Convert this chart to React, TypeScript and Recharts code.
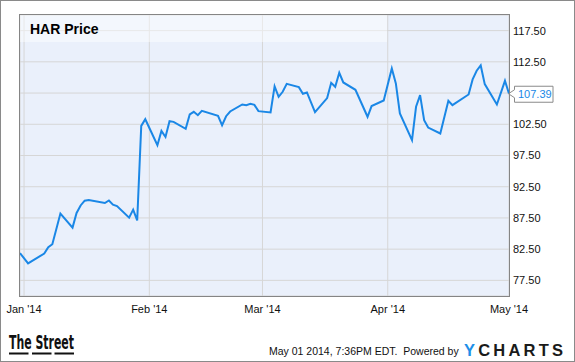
import React from 'react';
import { LineChart, Line, XAxis, YAxis, CartesianGrid, ReferenceDot } from 'recharts';

// Days since Dec 31 2013
const days = [
  0, 2, 6, 7, 8, 10, 13, 14, 15, 16, 17, 21, 22, 23, 24, 27, 28, 29, 30, 31,
  34, 35, 36, 37, 38, 41, 42, 43, 44, 45, 49, 50, 51, 52, 55, 56, 57, 58, 59,
  62, 63, 64, 65, 66, 69, 70, 71, 73, 76, 77, 78, 79, 80, 83, 86, 87, 90, 92,
  93, 94, 97, 98, 99, 100, 101, 104, 106, 107, 111, 112, 113, 114, 115, 118,
  120, 121,
];
const prices = [
  81.87, 80.21, 81.8, 82.8, 83.3, 88.2, 85.96, 88.3, 89.5, 90.27, 90.37, 89.89,
  90.3, 89.63, 89.41, 87.55, 88.83, 87.1, 102.24, 103.31,
  99.14, 101.43, 100.47, 102.99, 102.89, 101.77, 104.07, 104.49, 103.96, 104.65,
  103.84, 102.35, 103.79, 104.55, 105.67, 105.56, 105.77, 105.61, 104.6,
  104.39, 108.56, 106.9, 107.7, 108.98, 108.45, 107.38, 107.6, 104.44, 106.69,
  109.14, 108.5, 110.74, 109.2, 108.02, 103.7, 105.42, 106.31, 111.45,
  109.04, 104.23, 99.95, 105.3, 107.16, 103.15, 101.98, 101.02, 106.25, 105.56,
  107.27, 109.68, 111.07, 111.92, 108.93, 105.67, 109.46, 107.39,
];
const xTickDays = [1, 32, 60, 91, 121];
const xTickLabels = ["Jan '14", "Feb '14", "Mar '14", "Apr '14", "May '14"];
const yTicks = [77.5, 82.5, 87.5, 92.5, 97.5, 102.5, 107.5, 112.5, 117.5];
const lastDay = 121;
const lastPrice = 107.39;
const title = 'HAR Price';
const footerText = 'May 01 2014, 7:36PM EDT.  Powered by';

const data = days.map((d, i) => ({ d, v: prices[i] }));

const BLUE = '#1a87e6';
const FONT = '"Liberation Sans", Arial, sans-serif';

const PriceTag = (props: any) => {
  const { cx, cy } = props;
  const L = cx + 5.5;
  const R = cx + 44;
  const T = cy - 7.5;
  const B = cy + 8.5;
  const tip = cx - 0.5;
  const d = `M${L},${T} H${R} V${B} H${L} V${cy + 4} L${tip},${cy} L${L},${cy - 4} Z`;
  return (
    <g>
      <path d={d} fill="#fff" stroke="#8a8a8a" strokeWidth={1} />
      <text x={L + 3.5} y={cy + 4} fill={BLUE} fontSize={11} fontFamily={FONT}>
        {lastPrice.toFixed(2)}
      </text>
    </g>
  );
};

export default function App() {
  return (
    <div
      style={{
        position: 'absolute',
        left: 0,
        top: 0,
        width: 575,
        height: 362,
        background: '#fff',
        fontFamily: FONT,
      }}
    >
      <LineChart
        width={575}
        height={362}
        data={data}
        margin={{ top: 15, left: 20, right: 1, bottom: 36 }}
      >
        <CartesianGrid stroke="#d6d6d6" fill="#eaf0fb" strokeDasharray="" />
        <XAxis
          dataKey="d"
          type="number"
          domain={[0, 121]}
          ticks={xTickDays}
          tickFormatter={(v: number) => xTickLabels[xTickDays.indexOf(v)]}
          axisLine={false}
          tickLine={false}
          tickSize={0}
          tickMargin={9}
          height={30}
          interval={0}
          tick={{ fill: '#111', fontSize: 11, fontFamily: FONT }}
        />
        <YAxis
          orientation="right"
          type="number"
          domain={[75, 120]}
          ticks={yTicks}
          tickFormatter={(v: number) => (Math.abs(v - lastPrice) < 2 ? '' : v.toFixed(2))}
          axisLine={false}
          tickLine={false}
          tickSize={0}
          tickMargin={4}
          width={65}
          interval={0}
          tick={{ fill: '#111', fontSize: 11, fontFamily: FONT, textAnchor: 'start' }}
        />
        <Line
          type="linear"
          dataKey="v"
          stroke={BLUE}
          strokeWidth={2}
          dot={false}
          isAnimationActive={false}
        />
        <ReferenceDot
          x={lastDay}
          y={lastPrice}
          r={0}
          ifOverflow="visible"
          shape={(p: any) => <PriceTag {...p} />}
        />
      </LineChart>
      <svg
        width={575}
        height={362}
        style={{ position: 'absolute', left: 0, top: 0, pointerEvents: 'none' }}
      >
        <rect x={20} y={15} width={367} height={27} fill="#fff" fillOpacity={0.45} />
        <text x={30} y={33.5} fontSize={14} fontWeight="bold" fill="#000" fontFamily={FONT}>
          {title}
        </text>
        <rect x={19.5} y={14.5} width={490} height={282} fill="none" stroke="#858585" />
        <rect x={0.5} y={0.5} width={574} height={361} fill="none" stroke="#8a8a8a" />
        <text
          x={9}
          y={348.5}
          fontSize={19}
          fontWeight="bold"
          fill="#111"
          fontFamily={'"Liberation Sans Narrow", "DejaVu Sans Condensed", sans-serif'}
          textLength={65}
          lengthAdjust="spacingAndGlyphs"
        >
          The Street
        </text>
        <rect x={9} y={352.5} width={19.5} height={2} fill="#111" />
        <rect x={32} y={352.5} width={19.5} height={2} fill="#111" />
        <rect x={54.5} y={352.5} width={19.5} height={2} fill="#111" />
        <text x={269} y={354.5} fontSize={10.5} fill="#111" fontFamily={FONT} xmlSpace="preserve">
          {footerText}
        </text>
        <text x={464} y={356} fontSize={16.5} fontWeight="bold" fontFamily={FONT} letterSpacing={3.2}>
          <tspan fill="#1d8fe8">Y</tspan>
          <tspan fill="#1a1a1a">CHARTS</tspan>
        </text>
      </svg>
    </div>
  );
}
